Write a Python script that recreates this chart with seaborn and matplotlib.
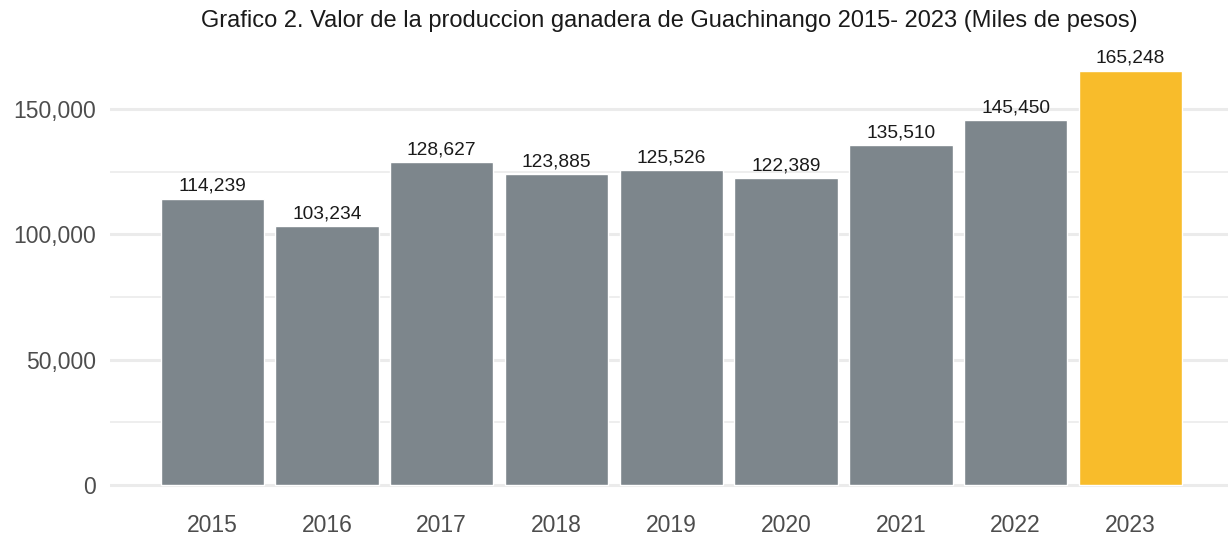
import matplotlib
matplotlib.use("Agg")
import matplotlib.pyplot as plt
import seaborn as sns
import pandas as pd
from matplotlib.ticker import FuncFormatter, MultipleLocator

# Data
years = ["2015", "2016", "2017", "2018", "2019", "2020", "2021", "2022", "2023"]
valores = [114239, 103234, 128627, 123885, 125526, 122389, 135510, 145450, 165248]

df = pd.DataFrame({"anio": years, "valor": valores})
colores = ["#7D868C"] * 8 + ["#F8BC2B"]

sns.set_theme(style="white")
plt.rcParams["font.family"] = ["Liberation Sans", "DejaVu Sans"]

fig = plt.figure(figsize=(12.28, 5.38), dpi=100)
ax = fig.add_axes([110 / 1228, 48 / 538, 1 - 110 / 1228, 428 / 538])

sns.barplot(data=df, x="anio", y="valor", hue="anio", palette=colores,
            legend=False, width=0.9, saturation=1, ax=ax, zorder=3)

# labels on top of bars
for i, v in enumerate(valores):
    ax.text(i, v + 1500, f"{v:,}", ha="center", va="bottom",
            fontsize=13.8, color="#1a1a1a", zorder=4)

ax.set_xlim(-0.89, 8.85)
ax.set_ylim(-2000, 168700)
ax.yaxis.set_major_locator(MultipleLocator(50000))
ax.yaxis.set_minor_locator(MultipleLocator(25000))
ax.yaxis.set_major_formatter(FuncFormatter(lambda x, p: f"{int(x):,}"))
ax.grid(axis="y", which="major", color="#EBEBEB", linewidth=2.2, zorder=0)
ax.grid(axis="y", which="minor", color="#EBEBEB", linewidth=1.2, zorder=0)
ax.set_axisbelow(True)

for s in ax.spines.values():
    s.set_visible(False)
ax.tick_params(axis="both", length=0, labelsize=16.5, colors="#4D4D4D")
ax.tick_params(axis="x", pad=17)
ax.tick_params(axis="y", pad=10)
ax.set_xlabel("")
ax.set_ylabel("")

fig.suptitle("Grafico 2. Valor de la produccion ganadera de Guachinango 2015- 2023 (Miles de pesos)",
             x=(110 + 1228) / 2 / 1228, y=1 - 21 / 538, va="center",
             fontsize=17, color="#1a1a1a")

fig.savefig("out.png", dpi=100)
